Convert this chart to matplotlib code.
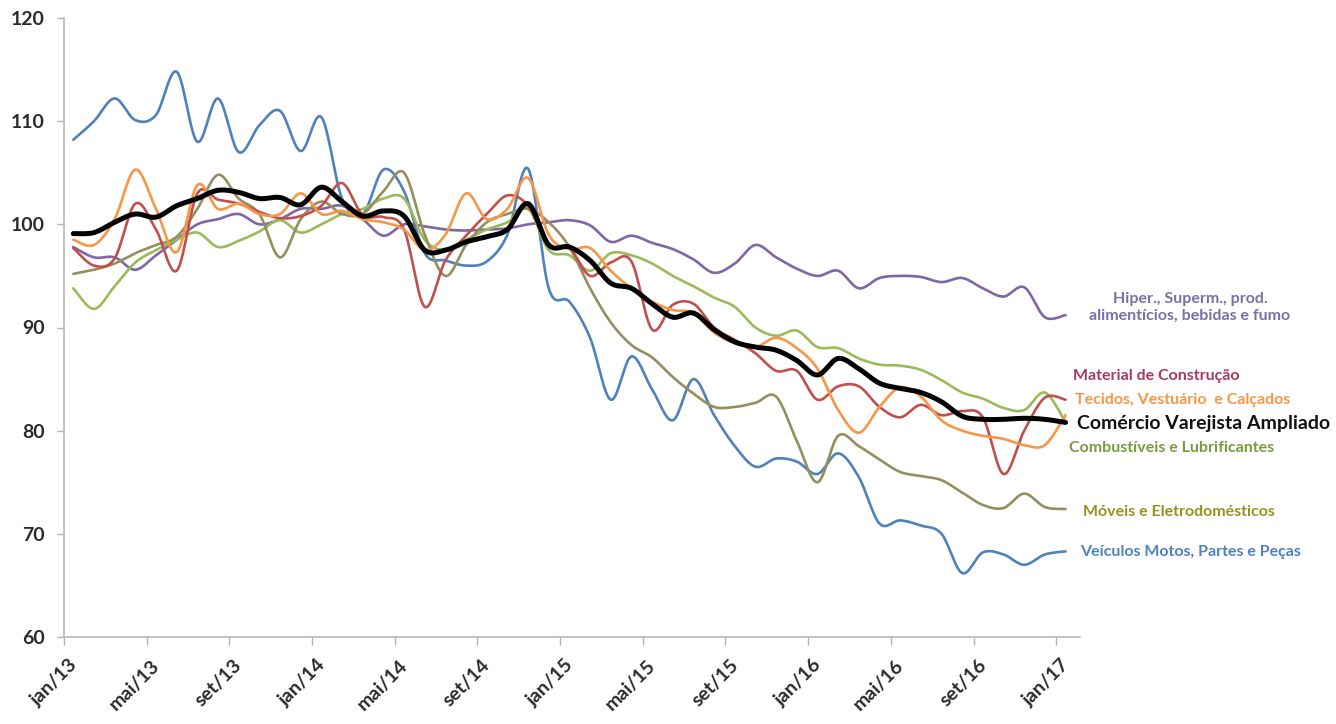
import matplotlib
matplotlib.use("Agg")
import matplotlib.pyplot as plt
import matplotlib.transforms as mtransforms
import numpy as np

# Indices mensais (base 2014 = 100), jan/13 a jan/17
meses = ["jan", "fev", "mar", "abr", "mai", "jun", "jul", "ago", "set", "out", "nov", "dez"]
rotulos = [f"{meses[i % 12]}/{13 + i // 12}" for i in range(49)]

veiculos = [108.2, 110.0, 112.2, 110.1, 110.6, 114.8, 108.0, 112.2, 107.0, 109.6,
            111.0, 107.1, 110.4, 102.5, 101.0, 105.3, 103.2, 97.2, 96.5, 96.0,
            96.4, 99.0, 105.4, 93.8, 92.5, 89.0, 83.0, 87.2, 84.0, 81.0,
            85.0, 81.5, 78.5, 76.5, 77.3, 77.0, 75.8, 77.8, 75.5, 71.0,
            71.3, 70.8, 70.0, 66.2, 68.2, 68.0, 67.0, 68.0, 68.3]
hiper = [97.8, 96.8, 96.8, 95.6, 97.0, 98.5, 100.0, 100.5, 101.0, 100.0,
         100.5, 101.5, 101.5, 101.8, 100.5, 98.9, 100.0, 99.8, 99.5, 99.4,
         99.5, 99.6, 100.0, 100.2, 100.4, 99.9, 98.3, 98.9, 98.2, 97.6,
         96.6, 95.3, 96.2, 98.0, 96.8, 95.7, 95.0, 95.5, 93.8, 94.8,
         95.0, 94.9, 94.4, 94.8, 93.8, 93.0, 93.9, 91.0, 91.2]
material = [97.7, 96.0, 96.7, 102.0, 99.5, 95.5, 103.0, 102.4, 102.0, 101.2,
            100.6, 100.8, 101.8, 104.0, 100.9, 100.7, 99.5, 92.0, 96.5, 98.9,
            101.0, 102.8, 101.8, 98.0, 97.7, 95.0, 96.3, 96.4, 89.8, 92.2,
            92.3, 90.0, 88.8, 87.5, 85.8, 85.8, 83.0, 84.3, 84.3, 82.3,
            81.3, 82.5, 81.5, 81.9, 81.3, 75.8, 80.0, 83.2, 83.0]
tecidos = [98.5, 98.0, 100.5, 105.3, 101.5, 97.3, 103.8, 101.5, 102.0, 101.0,
           101.0, 103.0, 101.0, 101.3, 100.5, 100.2, 99.5, 97.5, 99.0, 103.0,
           100.5, 101.5, 104.5, 99.0, 97.6, 97.7, 95.5, 93.8, 92.5, 91.7,
           91.4, 89.5, 88.5, 88.1, 89.0, 88.0, 86.0, 82.0, 79.8, 82.3,
           84.2, 83.3, 81.0, 80.0, 79.5, 79.2, 78.6, 78.6, 81.5]
combustiveis = [93.8, 91.8, 94.0, 96.3, 97.5, 98.5, 99.2, 97.8, 98.4, 99.3,
                100.4, 99.2, 100.0, 101.0, 101.5, 102.5, 102.5, 98.5, 97.5, 98.5,
                99.5, 100.2, 101.5, 97.5, 97.0, 95.5, 97.2, 97.0, 96.2, 95.0,
                94.0, 92.9, 92.0, 90.0, 89.2, 89.7, 88.1, 88.0, 87.0, 86.4,
                86.3, 85.9, 84.9, 83.7, 83.1, 82.2, 82.0, 83.7, 80.8]
moveis = [95.2, 95.6, 96.2, 97.2, 98.0, 98.8, 101.5, 104.8, 102.5, 101.0,
          96.8, 100.5, 102.2, 101.0, 101.0, 103.2, 105.0, 99.0, 95.0, 98.0,
          100.2, 101.0, 101.5, 100.2, 97.8, 93.8, 90.5, 88.3, 87.1, 85.2,
          83.6, 82.3, 82.3, 82.7, 83.3, 79.0, 75.0, 79.5, 78.5, 77.2,
          76.0, 75.6, 75.2, 74.0, 72.8, 72.5, 73.9, 72.6, 72.4]
ampliado = [99.1, 99.2, 100.2, 101.0, 100.7, 101.8, 102.5, 103.3, 103.1, 102.5,
            102.6, 101.9, 103.6, 102.2, 100.8, 101.3, 100.8, 97.5, 97.5, 98.3,
            98.8, 99.5, 102.0, 98.0, 97.8, 96.5, 94.3, 93.8, 92.3, 91.0,
            91.4, 89.8, 88.6, 88.1, 87.8, 86.8, 85.4, 87.0, 86.0, 84.6,
            84.1, 83.7, 82.8, 81.4, 81.1, 81.1, 81.2, 81.1, 80.8]


def suavizar(xs, ys, passos=16):
    # Curva suave tipo Excel: Bezier cubica com tangentes de Catmull-Rom.
    x = np.asarray(xs, dtype=float)
    y = np.asarray(ys, dtype=float)
    px = np.concatenate([[x[0]], x, [x[-1]]])
    py = np.concatenate([[y[0]], y, [y[-1]]])
    t = np.linspace(0, 1, passos, endpoint=False)[:, None]
    out_x, out_y = [], []
    for i in range(1, len(px) - 2):
        p0, p1, p2, p3 = (np.array([px[j], py[j]]) for j in (i - 1, i, i + 1, i + 2))
        c1 = p1 + (p2 - p0) / 6
        c2 = p2 - (p3 - p1) / 6
        b = ((1 - t) ** 3) * p1 + 3 * ((1 - t) ** 2) * t * c1 + 3 * (1 - t) * t ** 2 * c2 + t ** 3 * p2
        out_x.append(b[:, 0])
        out_y.append(b[:, 1])
    out_x.append([x[-1]])
    out_y.append([y[-1]])
    return np.concatenate(out_x), np.concatenate(out_y)


plt.rcParams["font.family"] = ["Lato", "DejaVu Sans"]

fig = plt.figure(figsize=(13.36, 7.24), dpi=100)
ax = fig.add_axes([64 / 1336, 1 - 637 / 724, (1080 - 64) / 1336, (637 - 18) / 724])

x = np.arange(len(ampliado)) + 0.45
series = [
    (veiculos, "#4f81bd", 1.9),
    (hiper, "#7f66a6", 1.9),
    (combustiveis, "#9bbb59", 1.9),
    (moveis, "#948f5c", 1.9),
    (material, "#c0504d", 1.9),
    (tecidos, "#f79646", 1.9),
    (ampliado, "#000000", 3.6),
]
for valores, cor, lw in series:
    sx, sy = suavizar(x, valores)
    ax.plot(sx, sy, color=cor, linewidth=lw, solid_capstyle="round")

ax.set_xlim(0, 49.15)
ax.set_ylim(60, 120)
ax.set_yticks(np.arange(60, 121, 10))
ax.set_xticks(np.arange(0, 49, 4))
ax.set_xticklabels([rotulos[i] for i in range(0, 49, 4)])

for spine in ("top", "right"):
    ax.spines[spine].set_visible(False)
for spine in ("left", "bottom"):
    ax.spines[spine].set_color("#b3b3b3")
    ax.spines[spine].set_linewidth(1.1)

ax.tick_params(axis="y", direction="out", length=5, width=1, color="#b3b3b3",
               pad=9, labelsize=14, labelcolor="#2b2b2b")
ax.tick_params(axis="x", direction="out", length=6, width=1, color="#b3b3b3",
               pad=8, labelsize=14, labelcolor="#2b2b2b")
for lab in ax.get_yticklabels():
    lab.set_fontweight("bold")
desloc = mtransforms.ScaledTranslation(16 / 100, 0, fig.dpi_scale_trans)
for lab in ax.get_xticklabels():
    lab.set_fontweight("bold")
    lab.set_rotation(45)
    lab.set_ha("right")
    lab.set_va("top")
    lab.set_transform(lab.get_transform() + desloc)


def px(xp, yp):
    return xp / 1336, 1 - yp / 724


fig.text(*px(1190, 307), "Hiper., Superm., prod.\nalimentícios, bebidas e fumo",
         ha="center", va="center", fontsize=11.5, fontweight="bold",
         color="#7a70a6", linespacing=1.25)
fig.text(*px(1073, 376), "Material de Construção", ha="left", va="center",
         fontsize=11.5, fontweight="bold", color="#a63a63")
fig.text(*px(1075, 400), "Tecidos, Vestuário  e Calçados", ha="left", va="center",
         fontsize=11.5, fontweight="bold", color="#f79646")
fig.text(*px(1077, 423), "Comércio Varejista Ampliado", ha="left", va="center",
         fontsize=14, fontweight="bold", color="#111111")
fig.text(*px(1069, 448), "Combustíveis e Lubrificantes", ha="left", va="center",
         fontsize=11.5, fontweight="bold", color="#7a9a3e")
fig.text(*px(1083, 512), "Móveis e Eletrodomésticos", ha="left", va="center",
         fontsize=11.5, fontweight="bold", color="#93931f")
fig.text(*px(1080, 552), "Veículos Motos, Partes e Peças", ha="left", va="center",
         fontsize=11.5, fontweight="bold", color="#4f81bd")

fig.savefig("out.png", dpi=100)
